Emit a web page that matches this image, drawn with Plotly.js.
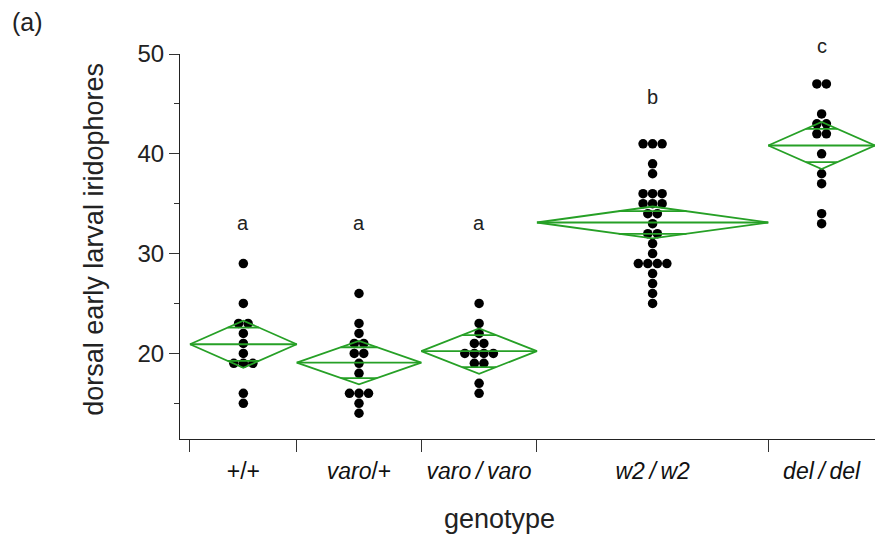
<!DOCTYPE html>
<html>
<head>
<meta charset="utf-8">
<script src="https://cdn.plot.ly/plotly-3.0.1.min.js"></script>
<style>html,body{margin:0;padding:0;background:#fff;}#chart{width:875px;height:539px;}</style>
</head>
<body>
<div id="chart"></div>
<script>
// ---- data ----
const genotypes = ['+/+', '<i>varo</i>/+', '<i>varo\u2009/\u2009varo</i>', '<i>w2\u2009/\u2009w2</i>', '<i>del\u2009/\u2009del</i>'];
const wildType   = [29,25,23,23,22,21,20,19,19,19,16,15];
const varoHet    = [26,23,22,21,21,20,20,19,18,16,16,16,15,14];
const varoHom    = [25,23,22,21,21,20,20,20,20,19,19,17,16];
const w2Hom      = [41,41,41,39,38,36,36,36,35,35,35,34,34,33,32,32,31,30,29,29,29,29,28,27,26,25];
const delHom     = [47,47,44,43,43,42,42,40,38,37,34,33];
const ciHalf     = [2.36, 2.18, 2.27, 1.60, 2.36];   // 95% CI half-heights read from the diamonds
const groupLetters = ['a','a','a','b','c'];
const letterY      = [33.1, 33.1, 33.1, 45.7, 50.8];

// ---- styling constants ----
const GREEN = '#26a026';
const DOT_SPACING = 1.07;   // x-units between side-by-side dots
const Y_RANGE = [11.42, 50];
const MARGIN = {l: 180, r: 0, t: 54, b: 100};
const HEIGHT = 539;

const groups = [wildType, varoHet, varoHom, w2Hom, delHom];
const bounds = [0];
groups.forEach(g => bounds.push(bounds[bounds.length-1] + g.length));
const centers = groups.map((g,i) => (bounds[i] + bounds[i+1]) / 2);

const traces = [];
// points
groups.forEach((g, i) => {
  const counts = {};
  g.forEach(v => counts[v] = (counts[v]||0) + 1);
  const seen = {};
  const xs = [], ys = [];
  g.forEach(v => {
    const k = counts[v];
    const idx = seen[v] || 0; seen[v] = idx + 1;
    xs.push(centers[i] + (idx - (k-1)/2) * DOT_SPACING);
    ys.push(v);
  });
  traces.push({x: xs, y: ys, type: 'scatter', mode: 'markers',
    marker: {color: '#000', size: 9.5, line: {width: 0}}, hoverinfo: 'y', showlegend: false});
});
// means diamonds (on overlay axis x2, identical scale, drawn above the dots)
groups.forEach((g, i) => {
  const m = g.reduce((a,b)=>a+b,0) / g.length;
  const c = ciHalf[i];
  const L = bounds[i], R = bounds[i+1], C = centers[i];
  const hw = (R - L) / 2;
  const oh = c * Math.SQRT2 / 2;
  const ow = hw * (1 - oh / c);
  const xs = [L, C, R, C, L, null, L, R, null, C-ow, C+ow, null, C-ow, C+ow];
  const ys = [m, m+c, m, m-c, m, null, m, m, null, m+oh, m+oh, null, m-oh, m-oh];
  traces.push({x: xs, y: ys, xaxis: 'x2', type: 'scatter', mode: 'lines',
    line: {color: GREEN, width: 1.8}, hoverinfo: 'skip', showlegend: false});
});

const font = {family: 'Liberation Sans, Arial, Helvetica, sans-serif', color: '#222'};
const xr = [-1.12, bounds[bounds.length-1]];
const pxPerUnit = (HEIGHT - MARGIN.t - MARGIN.b) / (Y_RANGE[1] - Y_RANGE[0]);
const annotations = groupLetters.map((t, i) => {
  const yIn = Math.min(letterY[i], Y_RANGE[1] - 0.01);   // annotations outside the range are hidden
  return {text: t, xref: 'x', yref: 'y', x: centers[i], y: yIn,
    yshift: (letterY[i] - yIn) * pxPerUnit, showarrow: false,
    xanchor: 'center', yanchor: 'middle', font: {size: 20, color: '#222'}};
});
annotations.push(
  {text: 'dorsal early larval iridophores', xref: 'paper', yref: 'paper', x: -0.125, y: 0.518,
   textangle: -90, showarrow: false, xanchor: 'center', yanchor: 'middle', font: {size: 27, color: '#222'}},
  {text: 'genotype', xref: 'paper', yref: 'paper', x: 0.4604, y: -0.208,
   showarrow: false, xanchor: 'center', yanchor: 'middle', font: {size: 27, color: '#222'}},
  {text: '(a)', xref: 'paper', yref: 'paper', x: -0.220, y: 1.083,
   showarrow: false, xanchor: 'center', yanchor: 'middle', font: {size: 25, color: '#222'}}
);
const layout = {
  width: 875, height: HEIGHT,
  margin: MARGIN,
  paper_bgcolor: '#fff', plot_bgcolor: '#fff',
  font: font,
  showlegend: false,
  xaxis: {range: xr, tickmode: 'array', tickvals: bounds, showticklabels: false,
    ticks: 'outside', ticklen: 12, tickwidth: 1, tickcolor: '#333',
    showline: true, linecolor: '#222', linewidth: 1, showgrid: false, zeroline: false, fixedrange: true},
  xaxis2: {overlaying: 'x', anchor: 'y', side: 'bottom', range: xr, tickmode: 'array',
    tickvals: centers, ticktext: genotypes, ticks: 'outside', ticklen: 11, tickcolor: 'rgba(0,0,0,0)',
    tickfont: {size: 23, color: '#111'}, showline: false, showgrid: false, zeroline: false},
  yaxis: {range: Y_RANGE, tickmode: 'array', tickvals: [20,30,40,50],
    ticks: 'outside', ticklen: 10, tickwidth: 1, tickcolor: '#333',
    minor: {tickmode: 'array', tickvals: [15,25,35,45], ticks: 'outside', ticklen: 5, tickcolor: '#333', showgrid: false},
    tickfont: {size: 24, color: '#222'}, showline: true, linecolor: '#222', linewidth: 1,
    showgrid: false, zeroline: false},
  annotations: annotations
};
Plotly.newPlot('chart', traces, layout, {displayModeBar: false, staticPlot: true});
</script>
</body>
</html>
